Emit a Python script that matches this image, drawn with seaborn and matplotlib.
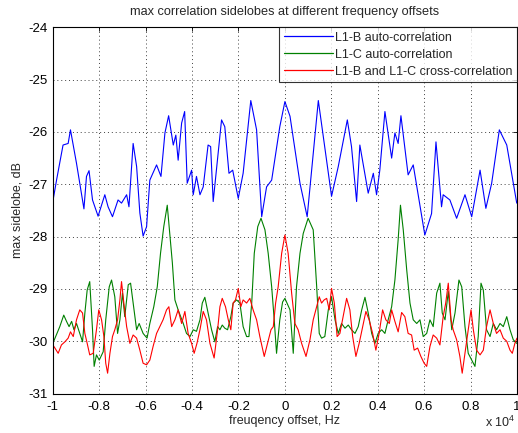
import matplotlib
matplotlib.use("Agg")
import matplotlib.pyplot as plt
import seaborn as sns
import pandas as pd
import numpy as np

# ---- data (frequency in units of 1e4 Hz, values in dB) ----
b_x = [-1.0, -0.984, -0.956, -0.934, -0.924, -0.898, -0.884, -0.866, -0.855, -0.844,
       -0.829, -0.805, -0.776, -0.762, -0.743, -0.719, -0.704, -0.682, -0.672, -0.654,
       -0.639, -0.625, -0.611, -0.596, -0.582, -0.553, -0.534, -0.517, -0.501, -0.481,
       -0.470, -0.460, -0.445, -0.432, -0.421, -0.402, -0.395, -0.381, -0.366, -0.352,
       -0.331, -0.320, -0.309, -0.273, -0.259, -0.241, -0.225, -0.201, -0.180, -0.147,
       -0.122, -0.100, -0.079, -0.057, -0.022, 0.0,
       0.022, 0.065, 0.096, 0.144, 0.201, 0.230, 0.269, 0.287, 0.309, 0.323,
       0.359, 0.381, 0.395, 0.409, 0.431, 0.460, 0.474, 0.488, 0.500, 0.531,
       0.553, 0.603, 0.632, 0.651, 0.675, 0.682, 0.711, 0.740, 0.776, 0.805,
       0.841, 0.866, 0.891, 0.924, 0.956, 0.999]
b_y = [-27.33, -26.92, -26.25, -26.22, -25.96, -26.60, -26.98, -27.47, -26.85, -26.74,
       -27.30, -27.61, -27.20, -27.43, -27.62, -27.30, -27.36, -27.20, -27.43, -26.22,
       -26.66, -27.55, -27.99, -27.81, -26.92, -26.63, -26.85, -26.02, -25.69, -26.25,
       -26.06, -26.54, -25.83, -25.61, -26.98, -26.73, -27.20, -26.85, -27.20, -27.05,
       -26.25, -26.28, -27.33, -25.77, -25.90, -26.79, -26.73, -27.27, -26.79, -25.40,
       -25.96, -27.62, -27.05, -26.92, -25.90, -25.42,
       -25.70, -26.98, -27.62, -25.40, -27.23, -26.66, -25.77, -26.28, -27.33, -26.25,
       -27.17, -26.79, -27.20, -26.73, -25.61, -26.50, -26.02, -26.22, -25.69, -26.82,
       -26.63, -27.97, -27.56, -26.19, -27.43, -27.20, -27.30, -27.65, -27.20, -27.62,
       -26.73, -27.46, -26.98, -25.96, -26.25, -27.36]

g_x = [-1.0, -0.970, -0.953, -0.941, -0.930, -0.919, -0.909, -0.898, -0.887, -0.872,
       -0.862, -0.852, -0.841, -0.829, -0.822, -0.812, -0.800, -0.783, -0.772, -0.757,
       -0.747, -0.733, -0.721, -0.711, -0.700, -0.690, -0.675, -0.665, -0.654, -0.639,
       -0.628, -0.611, -0.594, -0.582, -0.565, -0.550, -0.536, -0.522, -0.507, -0.496,
       -0.485, -0.474, -0.460, -0.438, -0.424, -0.409, -0.395, -0.381, -0.366, -0.356,
       -0.345, -0.331, -0.316, -0.302, -0.290, -0.280, -0.270, -0.259, -0.247, -0.233,
       -0.223, -0.208, -0.194, -0.180, -0.165, -0.155, -0.143, -0.132, -0.117, -0.103,
       -0.086, -0.072, -0.057, -0.046, -0.036, -0.022, -0.010, 0.0,
       0.022, 0.036, 0.050, 0.065, 0.079, 0.100, 0.122, 0.137, 0.148, 0.158,
       0.172, 0.187, 0.201, 0.216, 0.230, 0.244, 0.259, 0.273, 0.287, 0.302,
       0.316, 0.331, 0.345, 0.359, 0.374, 0.388, 0.402, 0.417, 0.431, 0.445,
       0.460, 0.474, 0.488, 0.498, 0.510, 0.525, 0.539, 0.553, 0.568, 0.582,
       0.596, 0.611, 0.625, 0.639, 0.654, 0.668, 0.678, 0.690, 0.704, 0.719,
       0.733, 0.750, 0.762, 0.776, 0.790, 0.805, 0.819, 0.833, 0.845, 0.855,
       0.869, 0.884, 0.898, 0.912, 0.927, 0.941, 0.956, 0.970, 0.984, 0.999]
g_y = [-30.04, -29.72, -29.50, -29.62, -29.72, -29.62, -29.78, -29.66, -29.81, -30.01,
       -29.46, -29.02, -28.86, -29.78, -30.48, -30.26, -30.36, -30.20, -29.59, -28.96,
       -28.83, -29.15, -29.85, -29.59, -29.08, -29.53, -28.92, -28.89, -29.27, -29.78,
       -29.66, -29.85, -29.94, -29.66, -29.34, -28.96, -28.32, -27.81, -27.40, -27.95,
       -28.50, -29.21, -29.40, -29.66, -29.85, -29.91, -29.78, -29.81, -29.59, -29.27,
       -29.16, -29.46, -29.78, -30.01, -29.72, -29.78, -29.69, -29.75, -29.78, -29.53,
       -29.27, -29.21, -29.27, -29.72, -29.91, -29.91, -29.27, -28.32, -27.81, -27.65,
       -27.87, -28.32, -28.96, -29.59, -30.23, -29.59, -29.25, -29.18,
       -29.40, -30.23, -28.96, -28.32, -27.94, -27.65, -27.87, -28.96, -29.85, -29.94,
       -29.91, -29.40, -29.15, -29.59, -29.85, -29.66, -29.75, -29.69, -29.78, -29.85,
       -29.72, -29.40, -29.16, -29.46, -29.85, -30.04, -29.85, -29.78, -29.85, -29.59,
       -29.34, -28.83, -28.06, -27.40, -27.87, -28.64, -29.27, -29.59, -29.66, -29.59,
       -29.91, -29.85, -29.59, -29.72, -29.08, -28.89, -29.46, -29.59, -29.05, -29.78,
       -29.46, -28.83, -28.96, -29.72, -30.23, -30.36, -30.48, -29.91, -28.89, -29.02,
       -29.78, -29.91, -29.66, -29.78, -29.66, -29.72, -29.53, -29.78, -29.97, -30.04]

r_x = [-1.0, -0.991, -0.977, -0.963, -0.948, -0.934, -0.924, -0.912, -0.898, -0.884,
       -0.872, -0.862, -0.852, -0.841, -0.826, -0.812, -0.802, -0.790, -0.780, -0.772,
       -0.764, -0.754, -0.743, -0.733, -0.721, -0.711, -0.704, -0.694, -0.682, -0.668,
       -0.654, -0.639, -0.625, -0.611, -0.596, -0.582, -0.568, -0.553, -0.539, -0.525,
       -0.510, -0.500, -0.488, -0.474, -0.460, -0.445, -0.431, -0.417, -0.402, -0.391,
       -0.379, -0.366, -0.352, -0.338, -0.323, -0.305, -0.290, -0.280, -0.270, -0.256,
       -0.244, -0.233, -0.223, -0.213, -0.201, -0.190, -0.180, -0.165, -0.151, -0.137,
       -0.122, -0.108, -0.089, -0.075, -0.060, -0.050, -0.040, -0.029, -0.014, 0.0,
       0.014, 0.029, 0.043, 0.057, 0.072, 0.091, 0.108, 0.122, 0.137, 0.148,
       0.158, 0.169, 0.180, 0.191, 0.201, 0.213, 0.225, 0.237, 0.251, 0.266,
       0.280, 0.292, 0.306, 0.320, 0.335, 0.349, 0.363, 0.378, 0.392, 0.406,
       0.421, 0.435, 0.450, 0.460, 0.474, 0.488, 0.503, 0.517, 0.531, 0.546,
       0.557, 0.572, 0.586, 0.600, 0.611, 0.625, 0.639, 0.654, 0.668, 0.682,
       0.693, 0.704, 0.716, 0.725, 0.740, 0.754, 0.764, 0.776, 0.788, 0.802,
       0.812, 0.826, 0.841, 0.855, 0.869, 0.884, 0.898, 0.912, 0.927, 0.941,
       0.956, 0.970, 0.980, 0.991, 1.0]
r_y = [-30.07, -30.13, -30.23, -30.07, -30.01, -29.94, -29.82, -29.91, -29.59, -29.40,
       -29.46, -29.85, -30.04, -30.26, -30.23, -29.78, -29.40, -29.59, -29.91, -30.42,
       -30.61, -30.23, -29.91, -29.78, -29.59, -29.21, -28.86, -29.27, -29.72, -30.04,
       -29.88, -29.94, -30.17, -30.42, -30.45, -30.36, -30.10, -29.85, -29.72, -29.59,
       -29.40, -29.34, -29.72, -29.59, -29.40, -29.66, -29.43, -29.85, -30.04, -30.23,
       -30.04, -29.78, -29.43, -29.59, -30.04, -30.32, -29.78, -29.34, -29.18, -29.34,
       -29.59, -29.78, -29.27, -29.21, -28.99, -29.34, -29.21, -29.27, -29.18, -29.40,
       -29.59, -29.91, -30.29, -30.04, -29.78, -29.72, -29.27, -28.96, -28.32, -27.97,
       -28.32, -29.08, -29.66, -29.78, -30.04, -30.29, -29.97, -29.59, -29.34, -29.15,
       -29.27, -29.21, -29.18, -29.40, -28.99, -29.27, -29.91, -29.85, -29.53, -29.18,
       -29.40, -29.91, -30.29, -30.04, -29.72, -29.43, -29.59, -29.85, -30.17, -29.85,
       -29.40, -29.59, -29.66, -29.40, -29.62, -29.82, -29.45, -29.53, -29.85, -29.88,
       -30.17, -30.13, -30.29, -30.42, -30.48, -30.10, -29.88, -29.94, -30.07, -29.53,
       -29.27, -28.89, -29.59, -29.78, -29.97, -30.29, -30.61, -30.23, -29.85, -29.40,
       -29.78, -30.17, -30.26, -30.17, -29.72, -29.40, -29.66, -29.85, -29.78, -29.94,
       -30.00, -30.17, -30.23, -30.04, -29.94]

labels = ["L1-B auto-correlation", "L1-C auto-correlation",
          "L1-B and L1-C cross-correlation"]
colors = ["#0000ff", "#008000", "#ff0000"]

title = "max correlation sidelobes at different frequency offsets"
xlabel = "freuqency offset, Hz"
ylabel = "max sidelobe, dB"
xticks = [-1.0, -0.8, -0.6, -0.4, -0.2, 0.0, 0.2, 0.4, 0.6, 0.8, 1.0]
xtick_labels = ["-1", "-0.8", "-0.6", "-0.4", "-0.2", "0", "0.2", "0.4", "0.6", "0.8", "1"]
yticks = [-31, -30, -29, -28, -27, -26, -25, -24]
x_multiplier = "x 10$^{4}$"

# ---- build long-form table ----
frames = []
for xs, ys, lab in [(b_x, b_y, labels[0]), (g_x, g_y, labels[1]), (r_x, r_y, labels[2])]:
    frames.append(pd.DataFrame({"freq": np.array(xs) * 1e4, "dB": ys, "series": lab}))
df = pd.concat(frames, ignore_index=True)

sns.set_style("white")
plt.rcParams["font.family"] = ["Liberation Sans", "DejaVu Sans"]
plt.rcParams["axes.unicode_minus"] = False
plt.rcParams["mathtext.default"] = "regular"

fig = plt.figure(figsize=(5.18, 4.33), dpi=100)
ax = fig.add_axes([0.102, 0.091, 0.896, 0.846])

sns.lineplot(data=df, x="freq", y="dB", hue="series", hue_order=labels,
             palette=colors, estimator=None, sort=False, linewidth=0.8, ax=ax)

ax.set_xlim(-1e4, 1e4)
ax.set_ylim(-31, -24)
ax.set_xticks([t * 1e4 for t in xticks])
ax.set_xticklabels(xtick_labels)
ax.set_yticks(yticks)

ax.grid(True, linestyle=(0, (1, 3)), color="#404040", linewidth=0.7)
ax.tick_params(direction="in", length=3, width=0.6, labelsize=9.5,
               top=True, right=True, colors="black")
ax.tick_params(axis="x", pad=5)
for s in ax.spines.values():
    s.set_color("black")
    s.set_linewidth(0.8)

ax.set_title(title, fontsize=9.2, pad=9)
ax.set_xlabel(xlabel, fontsize=9, labelpad=2)
ax.set_ylabel(ylabel, fontsize=9, labelpad=4)
fig.text(515 / 518, 1 - 427 / 433, x_multiplier, ha="right", va="baseline", fontsize=9)

handles, labs = ax.get_legend_handles_labels()
leg = ax.legend(handles, labs, loc="upper right", borderaxespad=0.0,
                fontsize=9, frameon=True, fancybox=False, handlelength=3.9,
                handletextpad=0.2, labelspacing=0.4, borderpad=0.35)
leg.get_frame().set_edgecolor("black")
leg.get_frame().set_linewidth(0.8)
for line in leg.get_lines():
    line.set_linewidth(0.9)

fig.savefig("out.png", dpi=100)
